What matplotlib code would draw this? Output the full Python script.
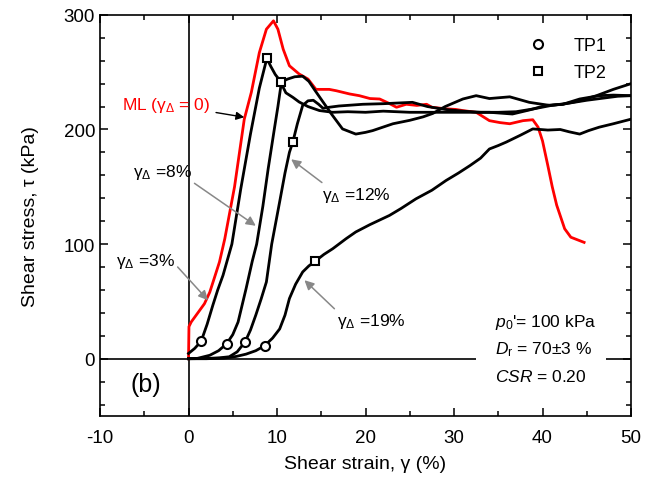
import matplotlib
matplotlib.use("Agg")
import matplotlib.pyplot as plt
from matplotlib.lines import Line2D
from matplotlib.patches import Rectangle

plt.rcParams['font.family'] = ['Liberation Sans', 'DejaVu Sans']
plt.rcParams['mathtext.fontset'] = 'custom'
plt.rcParams['mathtext.rm'] = 'Liberation Sans'
plt.rcParams['mathtext.it'] = 'Liberation Sans:italic'
plt.rcParams['axes.unicode_minus'] = False

# monotonic loading (red)
ml_x = [0, 0.05, 0.3, 1.24, 1.8, 2.4, 2.9, 3.5, 4.1, 5.2, 6.3, 7.1, 8.0, 8.8, 9.6, 10.1,
        10.7, 11.4, 12.5, 13.5, 14.4, 15.2, 15.9, 16.7, 18.2, 19.3, 20.5, 21.6, 22.6, 23.5,
        24.6, 25.8, 26.9, 27.5, 29.1, 30.2, 31.0, 32.5, 34.0, 35.2, 36.3, 37.8, 38.9, 39.5,
        40.0, 40.6, 41.1, 41.6, 42.5, 43.2, 44.2, 44.7]
ml_y = [0, 28, 32, 42, 48, 58, 70, 84.5, 104.7, 150, 209, 232.5, 267, 287.5, 294.8, 287.5,
        270, 255.6, 248.4, 244, 235, 235, 235, 233.8, 231, 229.5, 227, 226.6, 223, 219.4,
        222, 221, 222, 219.4, 218, 217.5, 216.5, 215, 207.7, 206, 205, 207.7, 208.5, 202,
        190, 168.5, 150, 134, 113.4, 106, 103, 101.5]

# gamma_delta = 3 %
a_x = [0, 0.7, 1.43, 2.1, 2.75, 3.3, 3.9, 4.9, 5.9, 7.0, 8.0, 8.85, 9.3, 9.8, 10.3, 11.0,
       11.8, 12.5, 13.5, 14.8, 16.3, 18, 20, 22, 25, 28, 31, 34, 36.6, 38.5, 40.4, 42.3,
       44.2, 46.1, 48, 50]
a_y = [4.6, 9, 15.3, 30, 46.7, 60, 72.8, 100, 148, 196, 236, 262, 255, 248, 243, 232,
       228, 224, 220, 216.5, 215, 215.5, 215, 216, 215, 215, 215, 215, 213.5, 217, 221, 222,
       225, 229.5, 235, 240]

# gamma_delta = 8 %
b_x = [0, 1, 2.4, 3.4, 4.3, 5.0, 5.6, 6.5, 7.2, 7.7, 8.4, 9.0, 9.7, 10.1, 10.5, 11.2,
       12.0, 12.9, 13.6, 14.3, 15.2, 16.2, 17.4, 18.9, 20.0, 20.8, 23.1, 25, 26.5, 27.6,
       29, 31, 32.5, 34, 36.3, 38.5, 40.8, 42.3, 44.2, 46.4, 48, 50]
b_y = [0, 0.3, 3, 7, 13, 21, 32, 61, 85, 100, 133, 165.7, 200.5, 220, 241.5, 244,
       246, 246.5, 242, 234, 224, 213, 200.5, 196, 197.5, 199, 205, 208, 211, 214,
       220, 226.6, 229.5, 227, 228.5, 223.7, 221, 222, 226.6, 229.5, 230, 229.5]

# gamma_delta = 12 %
c_x = [0, 2, 3.5, 4.6, 5.5, 6.4, 7.0, 7.6, 8.2, 8.8, 9.4, 10.3, 10.9, 11.4, 11.8, 12.3,
       12.9, 13.5, 14.1, 14.7, 15.2, 15.9, 17, 19.7, 22, 25.3, 27, 29, 31, 33, 35, 37,
       39, 41, 43, 45, 47, 48.5, 50]
c_y = [0, 0.2, 0.8, 1.7, 6, 14.8, 25, 38, 52, 67, 100, 137, 162, 180, 189.5, 205,
       221, 225, 225.5, 222, 218.5, 219.4, 220.5, 222, 222.5, 223.7, 220, 217.5, 216, 215, 215, 215.5,
       218, 221, 223, 225.5, 227.5, 229, 229.5]

# gamma_delta = 19 %
d_x = [0, 2, 4, 5.4, 6.5, 7.6, 8.6, 9.5, 10.3, 10.9, 11.4, 12.1, 12.9, 13.6, 14.3, 15.3,
       16.3, 17.8, 18.9, 20.5, 22.7, 24, 25.7, 27.5, 29.1, 30.5, 31.8, 33, 34, 35, 35.9,
       37.5, 38.9, 40.6, 42, 43, 44.2, 45.2, 46.4, 48, 50]
d_y = [0, 0, 0.5, 2, 4, 7, 11.3, 18, 26, 38, 52.5, 65, 75.7, 81, 85, 91,
       96, 104.7, 110.6, 117, 125, 131, 139.5, 147, 155.5, 162, 168.5, 175, 183, 186, 189,
       195, 200.5, 199.5, 200, 198, 196, 199, 202, 205, 209]

# TP1 (circles) and TP2 (squares)
tp1_x = [1.43, 4.3, 6.4, 8.6]
tp1_y = [15.3, 13, 14.8, 11.3]
tp2_x = [8.85, 10.5, 11.8, 14.3]
tp2_y = [262, 241.5, 189.5, 85]

fig = plt.figure(figsize=(6.58, 4.81), dpi=100)
ax = fig.add_axes([0.152, 0.133, 0.807, 0.834])

ax.axhline(0, color='k', lw=1.2, zorder=1)
ax.axvline(0, color='k', lw=1.2, zorder=1)

ax.plot(ml_x, ml_y, color='#ff0000', lw=2, zorder=3)
for xs, ys in [(a_x, a_y), (b_x, b_y), (c_x, c_y), (d_x, d_y)]:
    ax.plot(xs, ys, color='k', lw=2, zorder=3)

ax.plot(tp1_x, tp1_y, ls='none', marker='o', ms=6.5, mfc='white', mec='k', mew=1.5, zorder=5)
ax.plot(tp2_x, tp2_y, ls='none', marker='s', ms=6, mfc='white', mec='k', mew=1.5, zorder=5)

gd = r'$\mathregular{γ_Δ}$'
ax.annotate('ML (' + gd + ' = 0)', xy=(6.3, 210.7), xytext=(-7.5, 222), color='#ff0000',
            fontsize=12.5, va='center',
            arrowprops=dict(arrowstyle='-|>', color='k', lw=1, mutation_scale=12,
                            shrinkA=2, shrinkB=0))
grey = dict(arrowstyle='-|>', color='#888888', lw=1.1, mutation_scale=14, shrinkA=0, shrinkB=0)
ax.annotate(gd + ' =8%', xy=(7.6, 116), xytext=(-6.3, 163), fontsize=12.5, va='center',
            arrowprops=dict(grey, relpos=(1, 0)))
ax.annotate(gd + ' =3%', xy=(2.2, 51), xytext=(-8.2, 86), fontsize=12.5, va='center',
            arrowprops=dict(grey, relpos=(1, 0.3)))
ax.annotate(gd + ' =12%', xy=(11.6, 174), xytext=(15.1, 143), fontsize=12.5, va='center',
            arrowprops=dict(grey, relpos=(0.05, 1)))
ax.annotate(gd + ' =19%', xy=(13.1, 68.5), xytext=(16.8, 33), fontsize=12.5, va='center',
            arrowprops=dict(grey, relpos=(0.0, 1)))

ax.add_patch(Rectangle((32.5, -6), 14.7, 12, fc='white', ec='none', zorder=2))
ax.text(34.6, 32.5, r"$\mathit{p_0}$'= 100 kPa", fontsize=12.5, va='center', zorder=4)
ax.text(34.6, 9, r"$\mathit{D}_\mathregular{r}$ = 70±3 %", fontsize=12.5, va='center', zorder=4)
ax.text(34.6, -15, r"$\mathit{CSR}$ = 0.20", fontsize=12.5, va='center', zorder=4)
ax.text(-6.5, -22, '(b)', fontsize=18, va='center')

handles = [Line2D([], [], ls='none', marker='o', ms=6.5, mfc='white', mec='k', mew=1.5),
           Line2D([], [], ls='none', marker='s', ms=6, mfc='white', mec='k', mew=1.5)]
ax.legend(handles, ['TP1', 'TP2'], loc='upper right', bbox_to_anchor=(0.985, 0.985),
          frameon=False, fontsize=13, handletextpad=1.0, labelspacing=0.55)

ax.set_xlim(-10, 50)
ax.set_ylim(-50, 300)
ax.set_xticks(range(-10, 51, 10))
ax.set_xticks(range(-10, 51, 5), minor=True)
ax.set_yticks([0, 100, 200, 300])
ax.set_yticks(range(-40, 301, 20), minor=True)
ax.tick_params(which='both', direction='in', top=True, right=True, labelsize=13.5)
ax.tick_params(which='major', length=6, width=1.1)
ax.tick_params(which='minor', length=3.5, width=1.1)
ax.tick_params(axis='x', which='major', pad=9)
for s in ax.spines.values():
    s.set_linewidth(1.2)

ax.set_xlabel('Shear strain, γ (%)', fontsize=14, labelpad=7)
ax.set_ylabel('Shear stress, τ (kPa)', fontsize=14, labelpad=18)

fig.savefig('out.png', dpi=100)
